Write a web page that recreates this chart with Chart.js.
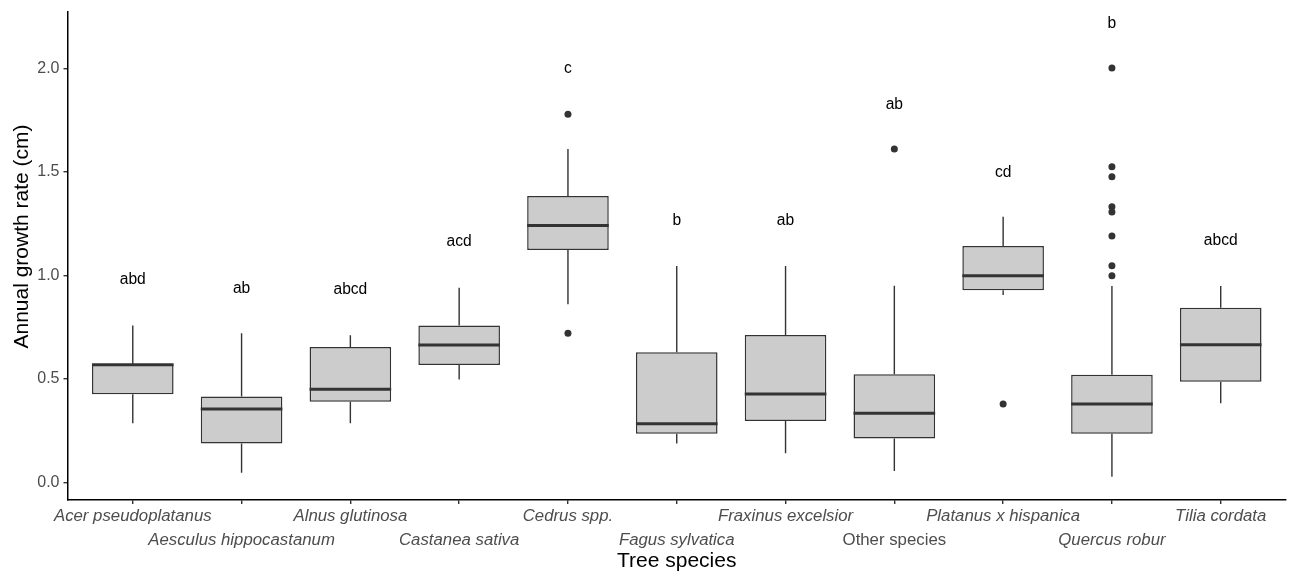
<!DOCTYPE html>
<html><head><meta charset="utf-8">
<script src="https://cdn.jsdelivr.net/npm/chart.js@4.4.1/dist/chart.umd.min.js"></script>
<style>html,body{margin:0;padding:0;background:#fff;}#wrap{width:1290px;height:575px;}</style>
</head><body><div id="wrap"><canvas id="c" width="1290" height="575"></canvas></div>
<script>
const species = ['Acer pseudoplatanus','Aesculus hippocastanum','Alnus glutinosa','Castanea sativa','Cedrus spp.','Fagus sylvatica','Fraxinus excelsior','Other species','Platanus x hispanica','Quercus robur','Tilia cordata'];
const italicLabel = [true,true,true,true,true,true,true,false,true,true,true];
const whiskerLow  = [0.285,0.046,0.285,0.497,0.860,0.188,0.140,0.055,0.905,0.027,0.382];
const q1          = [0.425,0.188,0.389,0.567,1.122,0.235,0.296,0.211,0.928,0.235,0.486];
const median      = [0.568,0.354,0.449,0.663,1.240,0.283,0.427,0.333,0.998,0.378,0.665];
const q3          = [0.571,0.414,0.654,0.758,1.383,0.628,0.712,0.522,1.142,0.520,0.843];
const whiskerHigh = [0.757,0.720,0.710,0.940,1.610,1.045,1.045,0.950,1.283,0.948,0.948];
const outlierSpecies = [4,4,7,8,9,9,9,9,9,9,9,9];
const outlierValues  = [1.778,0.720,1.610,0.378,2.001,1.525,1.476,1.331,1.306,1.190,1.046,0.998];
const groupLetters = ['abd','ab','abcd','acd','c','b','ab','ab','cd','b','abcd'];
const letterY = [0.977,0.937,0.929,1.161,2.0,1.262,1.262,1.826,1.498,2.217,1.167];
const yTicks = [0,0.5,1,1.5,2];

const FAMILY = '"Liberation Sans", Arial, Helvetica, sans-serif';

const boxParts = {
  id: 'boxParts',
  afterDatasetsDraw(chart) {
    const {ctx, scales: {x, y}} = chart;
    const meta = chart.getDatasetMeta(0);
    ctx.save();
    ctx.strokeStyle = '#333333';
    ctx.lineCap = 'butt';
    species.forEach((s, i) => {
      const bar = meta.data[i];
      const cx = x.getPixelForValue(i);
      const half = bar.width / 2;
      ctx.lineWidth = 1.4;
      ctx.beginPath();
      ctx.moveTo(cx, y.getPixelForValue(q3[i]));
      ctx.lineTo(cx, y.getPixelForValue(whiskerHigh[i]));
      ctx.moveTo(cx, y.getPixelForValue(q1[i]));
      ctx.lineTo(cx, y.getPixelForValue(whiskerLow[i]));
      ctx.stroke();
      ctx.lineWidth = 3;
      ctx.beginPath();
      const my = y.getPixelForValue(median[i]);
      ctx.moveTo(cx - half, my);
      ctx.lineTo(cx + half, my);
      ctx.stroke();
    });
    ctx.fillStyle = '#000000';
    ctx.font = '15.6px ' + FAMILY;
    ctx.textAlign = 'center';
    ctx.textBaseline = 'middle';
    groupLetters.forEach((t, i) => {
      ctx.fillText(t, x.getPixelForValue(i), y.getPixelForValue(letterY[i]));
    });
    ctx.translate(22, 236.5);
    ctx.rotate(-Math.PI / 2);
    ctx.font = '21px ' + FAMILY;
    ctx.fillText('Annual growth rate (cm)', 0, 0);
    ctx.restore();
  }
};

new Chart(document.getElementById('c'), {
  type: 'bar',
  data: {
    datasets: [
      {
        type: 'bar',
        data: species.map((s, i) => ({x: i, y: [q1[i], q3[i]]})),
        backgroundColor: '#cccccc',
        borderColor: '#333333',
        borderWidth: 1.5,
        borderSkipped: false,
        barPercentage: 0.75,
        categoryPercentage: 1,
        order: 2
      },
      {
        type: 'scatter',
        data: outlierSpecies.map((k, j) => ({x: k, y: outlierValues[j]})),
        pointRadius: 3.5,
        pointBackgroundColor: '#333333',
        pointBorderWidth: 0,
        order: 1
      }
    ]
  },
  options: {
    responsive: false,
    animation: false,
    devicePixelRatio: 1,
    events: [],
    layout: {padding: {top: 12, right: 0, bottom: 0, left: 0}},
    plugins: {legend: {display: false}, tooltip: {enabled: false}},
    scales: {
      x: {
        type: 'linear', min: -0.6, max: 10.6, offset: false,
        afterBuildTicks: s => { s.ticks = species.map((_, i) => ({value: i})); },
        afterFit: s => { s.height = 75; s.paddingLeft = 0; s.paddingRight = 0; },
        grid: {display: true, offset: false, drawOnChartArea: false, drawTicks: true, tickLength: 4, color: '#333333', lineWidth: 1.4},
        border: {display: true, color: '#000000', width: 1.5},
        ticks: {
          autoSkip: false, maxRotation: 0, minRotation: 0, padding: 0, color: '#4d4d4d',
          font: c => ({family: FAMILY, size: 16.8, style: italicLabel[c.index] ? 'italic' : 'normal', lineHeight: 1.43}),
          callback: (v, i) => (i % 2 === 1 ? ['', species[i]] : species[i])
        },
        title: {display: true, text: 'Tree species', color: '#000000', font: {family: FAMILY, size: 21, lineHeight: 1.2}, padding: {top: 0, bottom: 1}}
      },
      y: {
        type: 'linear', min: -0.0855, max: 2.272,
        afterBuildTicks: s => { s.ticks = yTicks.map(v => ({value: v})); },
        afterFit: s => { s.width = 67.5; s.paddingTop = 0; s.paddingBottom = 0; },
        grid: {display: true, offset: false, drawOnChartArea: false, drawTicks: true, tickLength: 4, color: '#333333', lineWidth: 1.4},
        border: {display: true, color: '#000000', width: 1.5},
        ticks: {padding: 4, color: '#4d4d4d', font: {family: FAMILY, size: 16, lineHeight: 1.2}, callback: v => v.toFixed(1)}
      }
    }
  },
  plugins: [boxParts]
});
</script>
</body></html>
